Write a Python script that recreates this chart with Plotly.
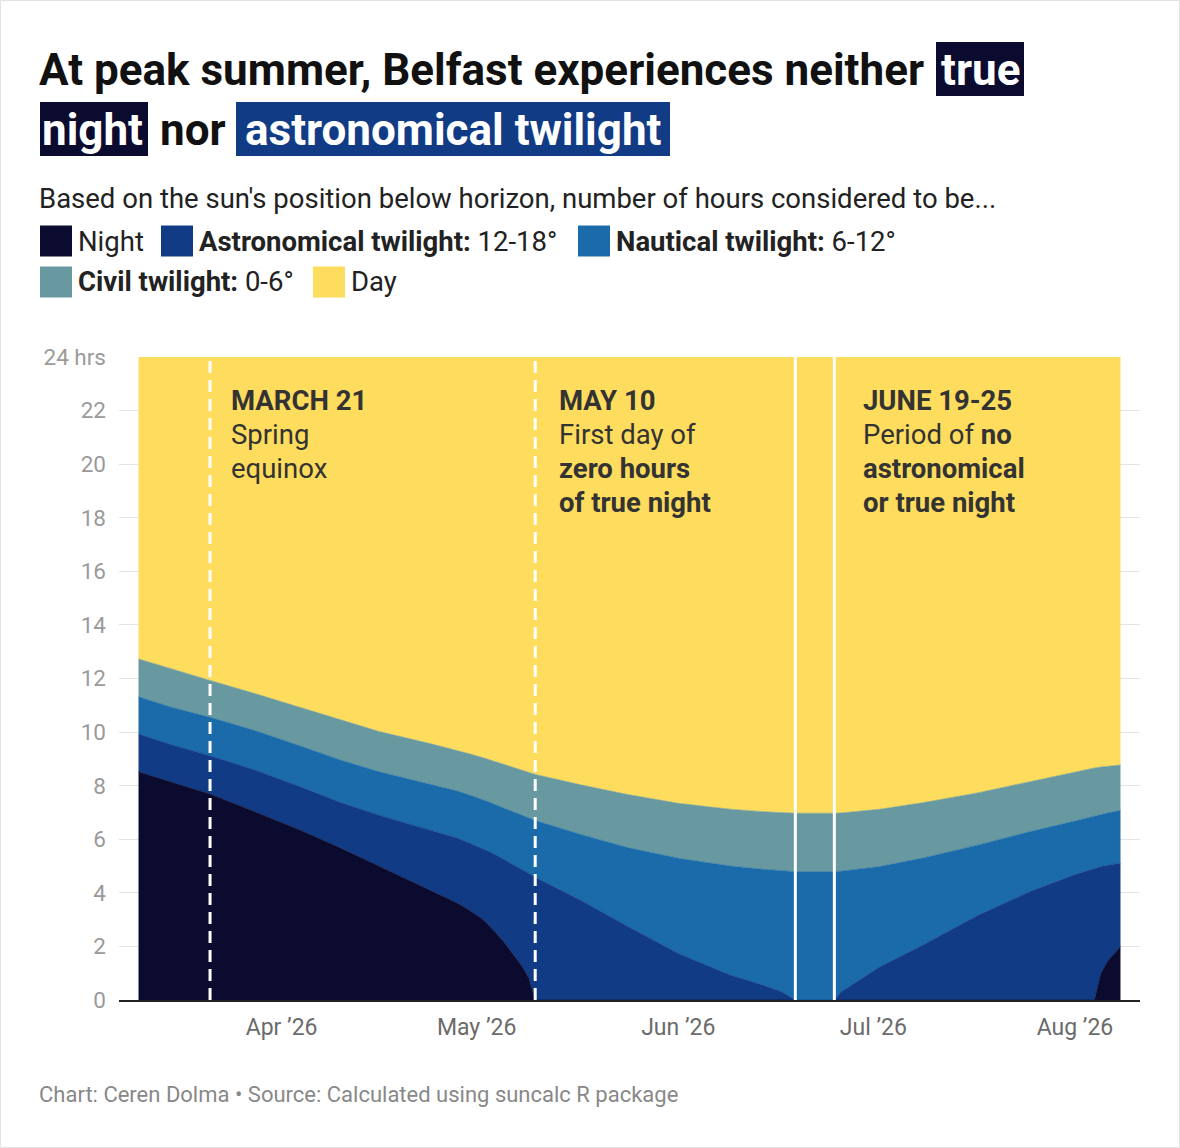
import plotly.graph_objects as go

# dates and hours per category
dates = ["2026-03-10", "2026-03-15", "2026-03-21", "2026-03-28", "2026-04-04",
         "2026-04-10", "2026-04-16", "2026-04-24", "2026-04-28", "2026-04-30",
         "2026-05-02", "2026-05-03", "2026-05-04", "2026-05-05", "2026-05-06",
         "2026-05-07", "2026-05-08", "2026-05-09", "2026-05-10",
         "2026-05-17", "2026-05-24", "2026-06-01", "2026-06-09", "2026-06-14",
         "2026-06-17", "2026-06-19", "2026-06-25", "2026-06-26", "2026-07-02",
         "2026-07-09", "2026-07-17", "2026-07-25", "2026-08-01", "2026-08-04",
         "2026-08-05", "2026-08-06", "2026-08-08"]

night = [8.52, 8.15, 7.69, 7.02, 6.33, 5.68, 4.99, 4.08, 3.62, 3.33,
         3.00, 2.76, 2.50, 2.22, 1.90, 1.58, 1.25, 0.82, 0.00,
         0, 0, 0, 0, 0, 0, 0, 0, 0, 0,
         0, 0, 0, 0, 0, 1.00, 1.45, 2.00]
astronomical = [1.41, 1.39, 1.43, 1.56, 1.62, 1.70, 1.91, 2.27, 2.43, 2.52,
                2.65, 2.77, 2.91, 3.06, 3.24, 3.42, 3.62, 3.91, 4.58,
                3.72, 2.78, 1.74, 0.93, 0.56, 0.30, 0, 0, 0.30, 1.24,
                2.10, 3.15, 4.04, 4.68, 4.92, 3.98, 3.58, 3.10]
nautical = [1.39, 1.39, 1.43, 1.47, 1.52, 1.58, 1.62, 1.68, 1.75, 1.79,
            1.83, 1.85, 1.87, 1.90, 1.94, 1.98, 2.03, 2.07, 2.12,
            2.46, 2.92, 3.55, 4.07, 4.32, 4.52, 4.79, 4.79, 4.51, 3.74,
            3.22, 2.63, 2.24, 2.00, 1.95, 1.95, 1.95, 1.97]
civil = [1.41, 1.43, 1.38, 1.38, 1.43, 1.49, 1.50, 1.53, 1.52, 1.54,
         1.56, 1.58, 1.60, 1.62, 1.64, 1.66, 1.68, 1.70, 1.72,
         1.85, 1.98, 2.05, 2.12, 2.15, 2.17, 2.18, 2.18, 2.17, 2.14,
         2.06, 1.95, 1.87, 1.84, 1.79, 1.77, 1.75, 1.70]
day = [11.27, 11.64, 12.07, 12.57, 13.10, 13.55, 13.98, 14.44, 14.68, 14.82,
       14.96, 15.04, 15.12, 15.20, 15.28, 15.36, 15.42, 15.50, 15.58,
       15.97, 16.32, 16.66, 16.88, 16.97, 17.01, 17.03, 17.03, 17.02, 16.88,
       16.62, 16.27, 15.85, 15.48, 15.34, 15.30, 15.27, 15.23]

series = [
    ("Night", night, "#0b0b30"),
    ("Astronomical twilight", astronomical, "#113c85"),
    ("Nautical twilight", nautical, "#1b6baa"),
    ("Civil twilight", civil, "#6899a0"),
    ("Day", day, "#fedc5d"),
]

y_ticks = list(range(0, 25, 2))
y_labels = [str(v) for v in y_ticks[:-1]] + ["24 hrs"]

markers = [("2026-03-21", "12px,7px"), ("2026-05-10", "12px,7px"),
           ("2026-06-19", "solid"), ("2026-06-25", "solid")]

notes = [
    (232, ["<b>MARCH 21</b>", "Spring", "equinox"]),
    (560, ["<b>MAY 10</b>", "First day of", "<b>zero hours</b>", "<b>of true night</b>"]),
    (864, ["<b>JUNE 19-25</b>", "Period of <b>no</b>", "<b>astronomical</b>", "<b>or true night</b>"]),
]

W, H = 1180, 1148
L, R, T, B = 119, 40, 357, 148
FONT = "Roboto"
PAD = 3  # annotation inner padding, taken off left-anchored texts


# pixel -> paper helpers
def px(x):
    return (x - L) / (W - L - R)


def py(y):
    return (H - B - y) / (H - T - B)


fig = go.Figure()
for name, vals, col in series:
    fig.add_trace(go.Scatter(
        x=dates, y=vals, name=name, mode="lines",
        stackgroup="one", line=dict(width=0.6, color=col),
        fillcolor=col, hoverinfo="x+y+name",
    ))

shapes = []
for d, dash in markers:
    shapes.append(dict(type="line", xref="x", yref="paper", x0=d, x1=d, y0=0, y1=1,
                       line=dict(color="white", width=3, dash=dash), layer="above"))

annotations = []
for xpix, lines in notes:
    for i, txt in enumerate(lines):
        annotations.append(dict(xref="paper", yref="paper", x=px(xpix - PAD), y=py(400 + 34 * i),
                                xanchor="left", yanchor="middle", align="left", showarrow=False,
                                text=txt, font=dict(family=FONT, size=27.5, color="#333333")))

# title with highlighted words
shapes += [
    dict(type="rect", xref="paper", yref="paper", x0=px(936), x1=px(1024), y0=py(42), y1=py(96),
         fillcolor="#0b0b30", line=dict(width=0), layer="above"),
    dict(type="rect", xref="paper", yref="paper", x0=px(40), x1=px(148), y0=py(102), y1=py(156),
         fillcolor="#0b0b30", line=dict(width=0), layer="above"),
    dict(type="rect", xref="paper", yref="paper", x0=px(236), x1=px(670), y0=py(102), y1=py(156),
         fillcolor="#113c85", line=dict(width=0), layer="above"),
]
title_parts = [
    ("At peak summer, Belfast experiences neither", 40 - PAD, 70, "left", "#111111"),
    ("true", 980, 70, "center", "white"),
    ("night", 92, 130, "center", "white"),
    ("nor", 161 - PAD, 130, "left", "#111111"),
    ("astronomical twilight", 453, 130, "center", "white"),
]
for txt, xpix, ypix, anc, col in title_parts:
    annotations.append(dict(xref="paper", yref="paper", x=px(xpix), y=py(ypix),
                            xanchor=anc, yanchor="middle", showarrow=False,
                            text="<b>" + txt + "</b>",
                            font=dict(family=FONT, size=44, color=col)))

annotations.append(dict(xref="paper", yref="paper", x=px(40 - PAD), y=py(198), xanchor="left",
                        yanchor="middle", showarrow=False,
                        text="Based on the sun's position below horizon, number of hours considered to be...",
                        font=dict(family=FONT, size=27.5, color="#222222")))

# legend built by hand
legend_items = [
    (40, 79, 241, "Night"),
    (161, 200, 241, "<b>Astronomical twilight:</b> 12-18°"),
    (578, 617, 241, "<b>Nautical twilight:</b> 6-12°"),
    (40, 79, 282, "<b>Civil twilight:</b> 0-6°"),
    (313, 352, 282, "Day"),
]
for (sx, tx, cy, txt), (_, _, col) in zip(legend_items, series):
    shapes.append(dict(type="rect", xref="paper", yref="paper", x0=px(sx), x1=px(sx + 32),
                       y0=py(cy - 15.5), y1=py(cy + 15.5), fillcolor=col, line=dict(width=0)))
    annotations.append(dict(xref="paper", yref="paper", x=px(tx - PAD), y=py(cy), xanchor="left",
                            yanchor="middle", showarrow=False, text=txt,
                            font=dict(family=FONT, size=27.5, color="#222222")))

annotations.append(dict(xref="paper", yref="paper", x=px(40 - PAD), y=py(1094), xanchor="left",
                        yanchor="middle", showarrow=False,
                        text="Chart: Ceren Dolma • Source: Calculated using suncalc R package",
                        font=dict(family=FONT, size=22, color="#888888")))

# thin frame round the graphic
shapes.append(dict(type="rect", xref="paper", yref="paper", x0=px(0.5), x1=px(W - 0.5),
                   y0=py(0.5), y1=py(H - 0.5), line=dict(color="#e3e3e3", width=1),
                   fillcolor="rgba(0,0,0,0)"))

fig.update_layout(
    width=W, height=H,
    margin=dict(l=L, r=R, t=T, b=B),
    paper_bgcolor="white", plot_bgcolor="white",
    showlegend=False,
    font=dict(family=FONT),
    shapes=shapes, annotations=annotations,
    xaxis=dict(range=["2026-03-07", "2026-08-11"], tick0="2026-04-01", dtick="M1",
               tickformat="%b ’%y", showgrid=False, showline=True, linecolor="#222222",
               linewidth=2, ticks="", tickfont=dict(family=FONT, size=23, color="#6b6b6b"),
               ticklabelstandoff=5, zeroline=False, fixedrange=True),
    yaxis=dict(range=[0, 24], tickvals=y_ticks, ticktext=y_labels, showgrid=True,
               gridcolor="#e4e4e4", gridwidth=1, zeroline=False, showline=False,
               tickfont=dict(family=FONT, size=22.5, color="#9a9a9a"),
               ticklabelstandoff=12, fixedrange=True),
)

# the page's default body margin would shift the figure by 8px
fig.write_html("out.html", config={"displayModeBar": False},
               post_script="document.body.style.margin='0';")
